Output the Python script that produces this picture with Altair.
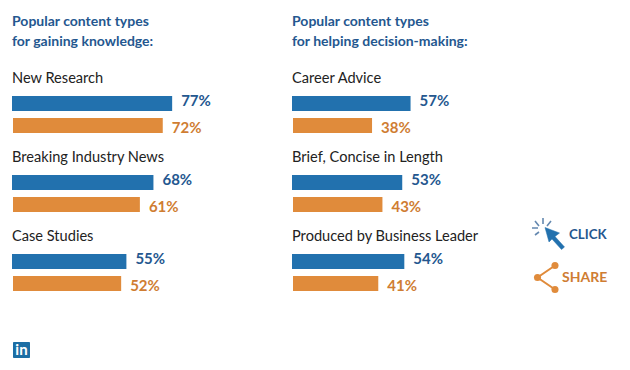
import altair as alt
import pandas as pd

left_title = ["Popular content types", "for gaining knowledge:"]
right_title = ["Popular content types", "for helping decision-making:"]
left_cats = ["New Research", "Breaking Industry News", "Case Studies"]
left_click = [77, 68, 55]
left_share = [72, 61, 52]
right_cats = ["Career Advice", "Brief, Concise in Length", "Produced by Business Leader"]
right_click = [57, 53, 54]
right_share = [38, 43, 41]

BLUE, ORANGE = "#2271ae", "#e08b3b"
BLUE_T, ORANGE_T = "#24578f", "#cf7d32"
FONT = "Lato"
H = 354
PITCH = 79.0
PX = 2.08
row = lambda px: px / PITCH  # rows are measured in group pitches
LABEL, CLICK, SHARE = row(71), row(95.5), row(117.5)
y_scale = alt.Scale(domain=[0, H / PITCH], range=[0, H], nice=False, padding=0)
Y = alt.Y("r:Q", scale=y_scale, axis=None)


def panel(title, cats, click, share, width, extra=None):
    xs = alt.Scale(domain=[0, width / PX], range=[0, width], nice=False, padding=0)
    X = alt.X("v:Q", scale=xs, axis=None)
    groups = range(len(cats))
    cat_df = pd.DataFrame({"t": cats, "r": [g + LABEL for g in groups], "v": 0})
    a = pd.DataFrame({"v": click, "r": [g + CLICK for g in groups],
                      "t": [f"{v}%" for v in click]})
    b = pd.DataFrame({"v": share, "r": [g + SHARE for g in groups],
                      "t": [f"{v}%" for v in share]})
    title_df = pd.DataFrame({"t": title, "r": [row(14), row(34)], "v": 0})
    layers = [
        alt.Chart(title_df).mark_text(align="left", baseline="middle", font=FONT, fontSize=14,
                                      fontWeight="bold", color=BLUE_T).encode(x=X, y=Y, text="t:N"),
        alt.Chart(cat_df).mark_text(align="left", baseline="middle", font=FONT, fontSize=14.6,
                                    color="#222222").encode(x=X, y=Y, text="t:N"),
        alt.Chart(a).mark_bar(size=15, color=BLUE).encode(x=X, x2=alt.datum(0), y=Y),
        alt.Chart(b).mark_bar(size=15, color=ORANGE, xOffset=1, x2Offset=1).encode(x=X, x2=alt.datum(0), y=Y),
        alt.Chart(a).mark_text(align="left", baseline="middle", dx=9, dy=-2.5, font=FONT, fontSize=15,
                               fontWeight="bold", color=BLUE_T).encode(x=X, y=Y, text="t:N"),
        alt.Chart(b).mark_text(align="left", baseline="middle", dx=10, dy=2.5, font=FONT, fontSize=15,
                               fontWeight="bold", color=ORANGE_T).encode(x=X, y=Y, text="t:N"),
    ]
    if extra:
        layers += extra
    return alt.layer(*layers).properties(width=width, height=H)


def at(x, y):
    return {"x": alt.value(x), "y": alt.value(y)}


one = pd.DataFrame({"a": [0]})
# LinkedIn mark (panel-local pixels)
logo = [
    alt.Chart(one).mark_rect(color="#1c6ea4", cornerRadius=1).encode(
        x=alt.value(1), x2=alt.value(18), y=alt.value(334), y2=alt.value(350)),
    alt.Chart(one).mark_text(text="in", font=FONT, fontSize=15, fontWeight="bold", color="white",
                             align="center", baseline="middle").encode(**at(9.5, 342)),
]

# Legend icons: panel origin is x=522, y=8 in the picture
burst = "M21,10L21,16M13,13L17,18M10,20L16,20M13,27L17,24M29,13L25,18"
cursor = "M23,19.5L37.5,25L33,28.5L42.5,39L39.5,41.5L30,31L27,34Z"
share_lines = "M33,66L15.5,78L33,90"
dots_x = [33, 15.5, 33]
dots_y = [66, 78, 90]
legend = [
    alt.Chart(one).mark_point(shape=burst, size=4, filled=False, stroke="#24578f", strokeWidth=1.6).encode(**at(0, 200)),
    alt.Chart(one).mark_point(shape=cursor, size=4, filled=True, fill=BLUE, stroke=BLUE, opacity=1, strokeWidth=0.5).encode(**at(0, 200)),
    alt.Chart(one).mark_text(text="CLICK", align="left", baseline="middle", font=FONT, fontSize=13.3,
                             fontWeight="bold", color=BLUE_T).encode(**at(47, 227)),
    alt.Chart(one).mark_point(shape=share_lines, size=4, filled=False, stroke=ORANGE, strokeWidth=2, opacity=1).encode(**at(0, 191.5)),
    alt.Chart(pd.DataFrame({"x": dots_x, "y": dots_y})).transform_calculate(y2="datum.y + 191.5").mark_point(
        filled=True, size=50, color=ORANGE, opacity=1).encode(
        x=alt.X("x:Q", scale=alt.Scale(domain=[0, 100], range=[0, 100], nice=False), axis=None),
        y=alt.Y("y2:Q", scale=alt.Scale(domain=[0, H], range=[0, H], nice=False), axis=None)),
    alt.Chart(one).mark_text(text="SHARE", align="left", baseline="middle", font=FONT, fontSize=14,
                             fontWeight="bold", color=ORANGE_T).encode(**at(40, 270)),
]
legend_panel = alt.layer(*legend).resolve_scale(x="independent", y="independent").properties(width=100, height=H)

chart = alt.hconcat(
    panel(left_title, left_cats, left_click, left_share, 280, logo),
    panel(right_title, right_cats, right_click, right_share, 230),
    legend_panel,
    spacing=0,
).properties(padding={"left": 4, "top": 0, "right": 0, "bottom": 0}, background="white").configure_view(stroke=None)

chart.save("out.html", embed_options={"renderer": "svg", "actions": False})
